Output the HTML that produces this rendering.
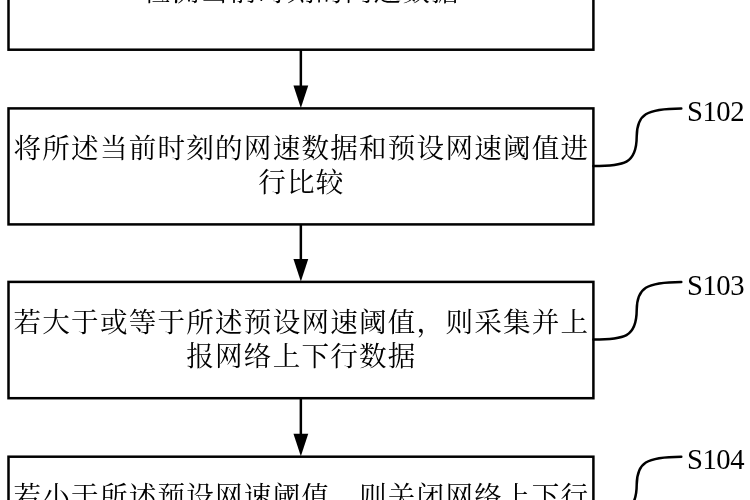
<!DOCTYPE html>
<html lang="zh-CN">
<head>
<meta charset="utf-8">
<title>流程图</title>
<style>
html,body{margin:0;padding:0;background:#fff;}
body{width:750px;height:500px;overflow:hidden;position:relative;}
svg{position:absolute;left:0;top:0;display:block;will-change:opacity;}
.t{font-family:"Liberation Serif","Noto Serif CJK SC",serif;font-size:27.6px;letter-spacing:1.2px;fill:#000;text-anchor:middle;font-weight:400;}
.s{font-family:"Liberation Serif","Noto Serif CJK SC",serif;font-size:28.65px;letter-spacing:-0.45px;fill:#000;}
.b{fill:none;stroke:#000;stroke-width:2.5;}
.c{fill:none;stroke:#000;stroke-width:2.5;stroke-linecap:round;}
</style>
</head>
<body>
<svg width="750" height="500" viewBox="0 0 750 500">
  <rect class="b" x="8.5" y="-66.3" width="584.9" height="116.0"/>
  <rect class="b" x="8.5" y="108.4" width="584.9" height="116.0"/>
  <rect class="b" x="8.5" y="281.9" width="584.9" height="116.3"/>
  <rect class="b" x="8.5" y="456.7" width="584.9" height="116.3"/>
  <line class="b" x1="300.85" y1="49.7" x2="300.85" y2="88.4"/>
  <polygon points="293.45,85.4 308.25,85.4 300.85,108.0"/>
  <line class="b" x1="300.85" y1="224.4" x2="300.85" y2="261.9"/>
  <polygon points="293.45,258.9 308.25,258.9 300.85,281.5"/>
  <line class="b" x1="300.85" y1="398.2" x2="300.85" y2="436.7"/>
  <polygon points="293.45,433.7 308.25,433.7 300.85,456.3"/>
  <path class="c" d="M593.4,166.0 C624,166.0 636.6,164.0 636.7,136.5 C636.9,114.4 646,108.6 681.3,108.4"/>
  <path class="c" d="M593.4,339.5 C624,339.5 636.6,337.5 636.7,310.0 C636.9,287.9 646,282.1 681.3,281.9"/>
  <path class="c" d="M593.4,514.3 C624,514.3 636.6,512.3 636.7,484.8 C636.9,462.7 646,456.9 681.3,456.7"/>
  <text class="t" x="301.45" y="0.5">检测当前时刻的网速数据</text>
  <text class="t" x="301.45" y="157.7">将所述当前时刻的网速数据和预设网速阈值进</text>
  <text class="t" x="301.45" y="191.7">行比较</text>
  <text class="t" x="301.45" y="331.8">若大于或等于所述预设网速阈值，则采集并上</text>
  <text class="t" x="301.45" y="365.8">报网络上下行数据</text>
  <text class="t" x="301.45" y="506.1">若小于所述预设网速阈值，则关闭网络上下行</text>
  <text class="s" x="687" y="121">S102</text>
  <text class="s" x="687" y="295">S103</text>
  <text class="s" x="687" y="469">S104</text>
</svg>
</body>
</html>
